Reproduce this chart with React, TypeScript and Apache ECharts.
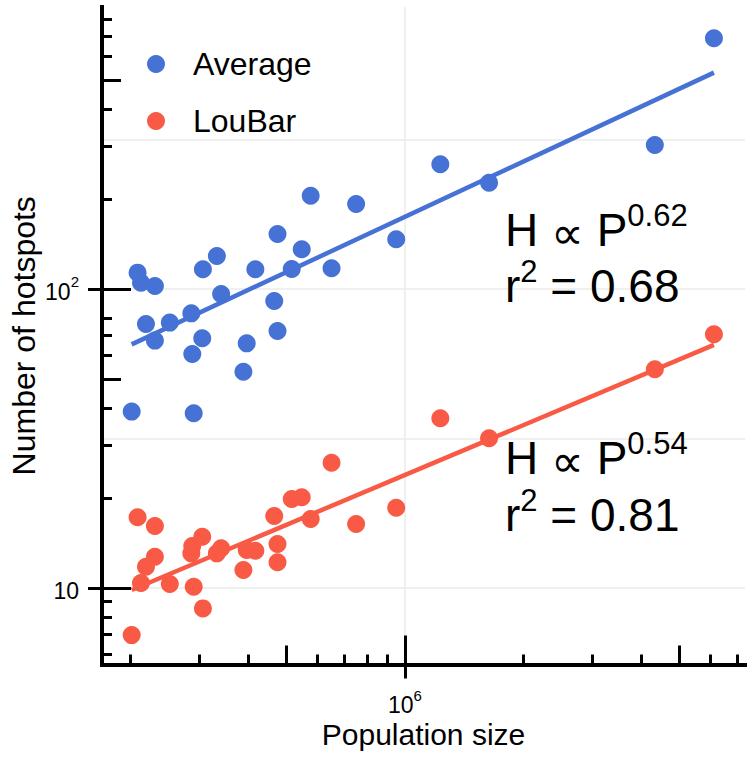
import React, { useEffect, useRef } from 'react';
import * as echarts from 'echarts';

// City population sizes (shared by both series)
const populations = [
  201700, 208800, 213000, 219300, 231100, 231100, 252200, 286100, 287700, 290100,
  305000, 306200, 332300, 340700, 388200, 395800, 416400, 465100, 474100, 474100,
  515400, 546400, 575800, 650700, 751500, 950600, 1231000, 1638000, 4327000, 6118000,
];
// Number of hotspots, "Average" method
const averageHotspots = [
  38.9, 113.4, 105.0, 76.4, 102.3, 67.2, 77.2, 82.9, 60.6, 38.4,
  68.4, 116.4, 128.9, 96.2, 52.9, 65.8, 116.4, 91.2, 152.7, 72.4,
  116.7, 135.8, 205.1, 117.3, 192.4, 146.6, 261.3, 226.7, 303.1, 689.3,
];
// Number of hotspots, "LouBar" method
const loubarHotspots = [
  6.96, 17.24, 10.4, 11.78, 16.12, 12.73, 10.31, 13.06, 13.82, 10.1,
  14.84, 8.55, 13.06, 13.58, 11.49, 13.4, 13.33, 17.41, 14.03, 12.19,
  19.85, 20.11, 17.01, 26.25, 16.37, 18.56, 36.94, 31.67, 53.88, 70.56,
];
// Fitted power-law lines (end points)
const averageFit = [[201700, 65.3], [6118000, 529]];
const loubarFit = [[201700, 9.85], [6118000, 65.0]];
const fitExponents = ['0.62', '0.54'];
const fitR2 = ['0.68', '0.81'];
const seriesNames = ['Average', 'LouBar'];

// Axis ticks and labels
const xMinorTicks = [2e5, 3e5, 4e5, 6e5, 7e5, 8e5, 9e5, 2e6, 3e6, 4e6, 6e6, 7e6];
const xMidTicks = [5e5, 5e6];
const xMajorTicks = [1e6];
const xLabelBase = ['10'];
const xLabelExp = ['6'];
const xGridValues = [1e6];
const yMinorTicks = [6, 7, 8, 9, 20, 30, 40, 60, 70, 80, 200, 300, 400, 600, 700, 800];
const yMidTicks = [50, 500];
const yMajorTicks = [10, 100];
const yLabelBase = ['10', '10'];
const yLabelExp = ['', '2'];
const yGridValues = [10, 31.62, 100, 316.2];

export default function App() {
  const ref = useRef<HTMLDivElement>(null);
  useEffect(() => {
    const chart = echarts.init(ref.current as HTMLDivElement, null, { renderer: 'svg' });
    const font = 'Liberation Sans, Arial, Helvetica, sans-serif';
    const black = '#000000';
    const blue = '#4672D6';
    const red = '#F95A45';
    const gridColor = '#EBEBEB';
    const xMin = 1.695e5, xMax = 7.34e6, yMin = 5.55, yMax = 877;

    const supRich = {
      b: { fontSize: 23, lineHeight: 29, verticalAlign: 'bottom', color: black, fontFamily: font },
      s: { fontSize: 15, lineHeight: 15, verticalAlign: 'top', color: black, fontFamily: font },
    };
    const fmt = (ticks: number[], base: string[], exp: string[]) => (v: number) => {
      let i = 0;
      let best = Infinity;
      ticks.forEach((t, k) => {
        const d = Math.abs(Math.log10(v) - Math.log10(t));
        if (d < best) { best = d; i = k; }
      });
      return exp[i] ? `{b|${base[i]}}{s|${exp[i]}}` : `{b|${base[i]}}`;
    };

    const tickStyle = { color: black, width: 3 };
    const xBase = {
      type: 'log', logBase: 10, min: xMin, max: xMax, position: 'bottom',
      axisLabel: { show: false }, splitLine: { show: false }, axisLine: { show: false },
    };
    const yBase = {
      type: 'log', logBase: 10, min: yMin, max: yMax, position: 'left',
      axisLabel: { show: false }, splitLine: { show: false }, axisLine: { show: false },
    };

    const annRich = {
      t: { fontSize: 46, lineHeight: 53, verticalAlign: 'bottom', fontFamily: font, color: black },
      p: { fontSize: 46, lineHeight: 53, verticalAlign: 'top', padding: [10, 0, 0, 0], fontFamily: 'DejaVu Sans', color: black },
      s: { fontSize: 31, lineHeight: 31, verticalAlign: 'top', fontFamily: font, color: black },
    };
    const annX = 505;
    const annTops = [[199.6, 255.6], [427.6, 484.6]];
    const graphic: any[] = [];
    fitExponents.forEach((e, i) => {
      graphic.push({
        type: 'text', left: annX, top: annTops[i][0], z: 10,
        style: { text: `{t|H }{p|∝}{t| P}{s|${e}}`, rich: annRich },
      });
      graphic.push({
        type: 'text', left: annX, top: annTops[i][1], z: 10,
        style: { text: `{t|r}{s|2}{t| = ${fitR2[i]}}`, rich: annRich },
      });
    });

    chart.setOption({
      animation: false,
      backgroundColor: '#ffffff',
      textStyle: { fontFamily: font },
      grid: { left: 98.5, right: 7, top: 7, bottom: 93.5, containLabel: false },
      legend: {
        data: seriesNames,
        orient: 'vertical',
        left: 147,
        top: 48,
        padding: 0,
        icon: 'circle',
        itemWidth: 18,
        itemHeight: 18,
        itemGap: 25,
        textStyle: { fontSize: 32, lineHeight: 32, color: black, fontFamily: font, padding: [0, 0, 0, 23] },
      },
      xAxis: [
        {
          ...xBase,
          axisLine: { show: true, lineStyle: { color: black, width: 4, cap: 'square' } },
          axisTick: { show: true, inside: true, length: 10, lineStyle: tickStyle, customValues: xMinorTicks },
          name: 'Population size',
          nameLocation: 'middle',
          nameGap: 55,
          nameTextStyle: { fontSize: 30, color: black, fontFamily: font },
        },
        {
          ...xBase,
          axisTick: { show: true, inside: true, length: 19, lineStyle: tickStyle, customValues: xMidTicks },
        },
        {
          ...xBase,
          offset: 14,
          axisTick: { show: true, inside: true, length: 43, lineStyle: tickStyle, customValues: xMajorTicks },
          axisLabel: {
            show: true, margin: 9, customValues: xMajorTicks, fontSize: 23, color: black, fontFamily: font,
            formatter: fmt(xMajorTicks, xLabelBase, xLabelExp), rich: supRich,
          },
        },
        {
          ...xBase,
          axisTick: { show: false, customValues: xGridValues },
          splitLine: { show: true, lineStyle: { color: gridColor, width: 1.5 } },
        },
      ],
      yAxis: [
        {
          ...yBase,
          axisLine: { show: true, lineStyle: { color: black, width: 4, cap: 'square' } },
          axisTick: { show: true, inside: true, length: 10, lineStyle: tickStyle, customValues: yMinorTicks },
          name: 'Number of hotspots',
          nameLocation: 'middle',
          nameGap: 62,
          nameTextStyle: { fontSize: 32, color: black, fontFamily: font },
        },
        {
          ...yBase,
          axisTick: { show: true, inside: true, length: 19, lineStyle: tickStyle, customValues: yMidTicks },
        },
        {
          ...yBase,
          offset: 14,
          axisTick: { show: true, inside: true, length: 43, lineStyle: tickStyle, customValues: yMajorTicks },
          axisLabel: {
            show: true, margin: 9, customValues: yMajorTicks, fontSize: 23, color: black, fontFamily: font,
            formatter: fmt(yMajorTicks, yLabelBase, yLabelExp), rich: supRich,
          },
        },
        {
          ...yBase,
          axisTick: { show: false, customValues: yGridValues },
          splitLine: { show: true, lineStyle: { color: gridColor, width: 1.5 } },
        },
      ],
      series: [
        {
          name: seriesNames[0], type: 'scatter', symbol: 'circle', symbolSize: 18,
          itemStyle: { color: blue, opacity: 1 }, z: 3,
          data: populations.map((p, i) => [p, averageHotspots[i]]),
        },
        {
          name: seriesNames[1], type: 'scatter', symbol: 'circle', symbolSize: 18,
          itemStyle: { color: red, opacity: 1 }, z: 3,
          data: populations.map((p, i) => [p, loubarHotspots[i]]),
        },
        {
          name: 'Average fit', type: 'line', showSymbol: false, silent: true,
          lineStyle: { color: blue, width: 4.5 }, itemStyle: { color: blue }, z: 2,
          data: averageFit,
        },
        {
          name: 'LouBar fit', type: 'line', showSymbol: false, silent: true,
          lineStyle: { color: red, width: 4.5 }, itemStyle: { color: red }, z: 2,
          data: loubarFit,
        },
      ],
      graphic,
    });
    return () => chart.dispose();
  }, []);
  return (
    <div
      ref={ref}
      style={{ position: 'absolute', left: 0, top: 0, width: 752, height: 758, background: '#fff' }}
    />
  );
}
